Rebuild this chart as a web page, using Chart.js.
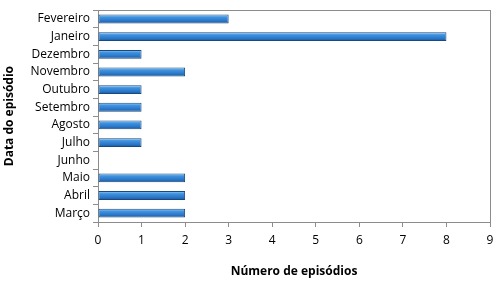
<!DOCTYPE html>
<html>
<head>
<meta charset="utf-8">
<script src="https://cdn.jsdelivr.net/npm/chart.js@4/dist/chart.umd.min.js"></script>
<style>
  html, body { margin: 0; padding: 0; background: #fff; }
  #wrap { width: 495px; height: 283px; }
</style>
</head>
<body>
<div id="wrap"><canvas id="chart" width="495" height="283"></canvas></div>
<script>
// months, top to bottom as in the chart
const months = ["Fevereiro", "Janeiro", "Dezembro", "Novembro", "Outubro", "Setembro",
  "Agosto", "Julho", "Junho", "Maio", "Abril", "Março"];
const episodes = [3, 8, 1, 2, 1, 1, 1, 1, 0, 2, 2, 2];
const xTicks = [0, 1, 2, 3, 4, 5, 6, 7, 8, 9];

const FONT = "'Open Sans', 'DejaVu Sans', sans-serif";

// box round the plot area
const frame = {
  id: "frame",
  beforeDatasetsDraw(chart) {
    const { ctx, chartArea: a } = chart;
    ctx.save();
    ctx.strokeStyle = "#8c8c8c";
    ctx.lineWidth = 1;
    ctx.strokeRect(Math.round(a.left) + 0.5, Math.round(a.top) + 0.5,
      Math.round(a.right - a.left), Math.round(a.bottom - a.top));
    ctx.restore();
  }
};

// vertical shading on each bar, centred on its category
function barFill(context) {
  const chart = context.chart;
  const y = chart.scales.y;
  if (!y || !chart.chartArea) return "#2a78c8";
  const cy = y.getPixelForValue(context.dataIndex);
  const h = 9;
  const g = chart.ctx.createLinearGradient(0, cy - h / 2, 0, cy + h / 2);
  g.addColorStop(0, "#9fd0f7");
  g.addColorStop(0.3, "#3f93e0");
  g.addColorStop(0.7, "#2a76c6");
  g.addColorStop(1, "#1a5496");
  return g;
}

new Chart(document.getElementById("chart"), {
  type: "bar",
  data: {
    labels: months,
    datasets: [{
      data: episodes,
      backgroundColor: barFill,
      borderColor: "#174a80",
      borderWidth: 1,
      borderSkipped: false,
      categoryPercentage: 1,
      barPercentage: 0.5
    }]
  },
  options: {
    indexAxis: "y",
    responsive: false,
    animation: false,
    layout: { padding: { top: 2, right: 5, left: 0, bottom: 0 } },
    plugins: { legend: { display: false }, tooltip: { enabled: false } },
    scales: {
      x: {
        min: 0,
        max: 9,
        afterBuildTicks: (s) => { s.ticks = xTicks.map((v) => ({ value: v })); },
        grid: { drawOnChartArea: false, drawTicks: true, tickLength: 5, color: "#8c8c8c" },
        border: { color: "#8c8c8c" },
        ticks: { color: "#000", font: { family: FONT, size: 12 }, padding: 6, autoSkip: false, maxRotation: 0 },
        title: {
          display: true, text: "Número de episódios", color: "#000",
          font: { family: FONT, size: 12, weight: "bold" }, padding: { top: 14 }
        },
        afterFit: (s) => { s.height = 61; s.paddingRight = 0; }
      },
      y: {
        grid: { drawOnChartArea: false, drawTicks: true, tickLength: 5, offset: true, color: "#8c8c8c" },
        border: { color: "#8c8c8c" },
        ticks: { color: "#000", font: { family: FONT, size: 12 }, padding: 3, autoSkip: false },
        title: {
          display: true, text: "Data do episódio", color: "#000",
          font: { family: FONT, size: 12, weight: "bold" }, padding: { top: 2, bottom: 4 }
        },
        afterFit: (s) => { s.width = 98; }
      }
    }
  },
  plugins: [frame]
});
</script>
</body>
</html>
